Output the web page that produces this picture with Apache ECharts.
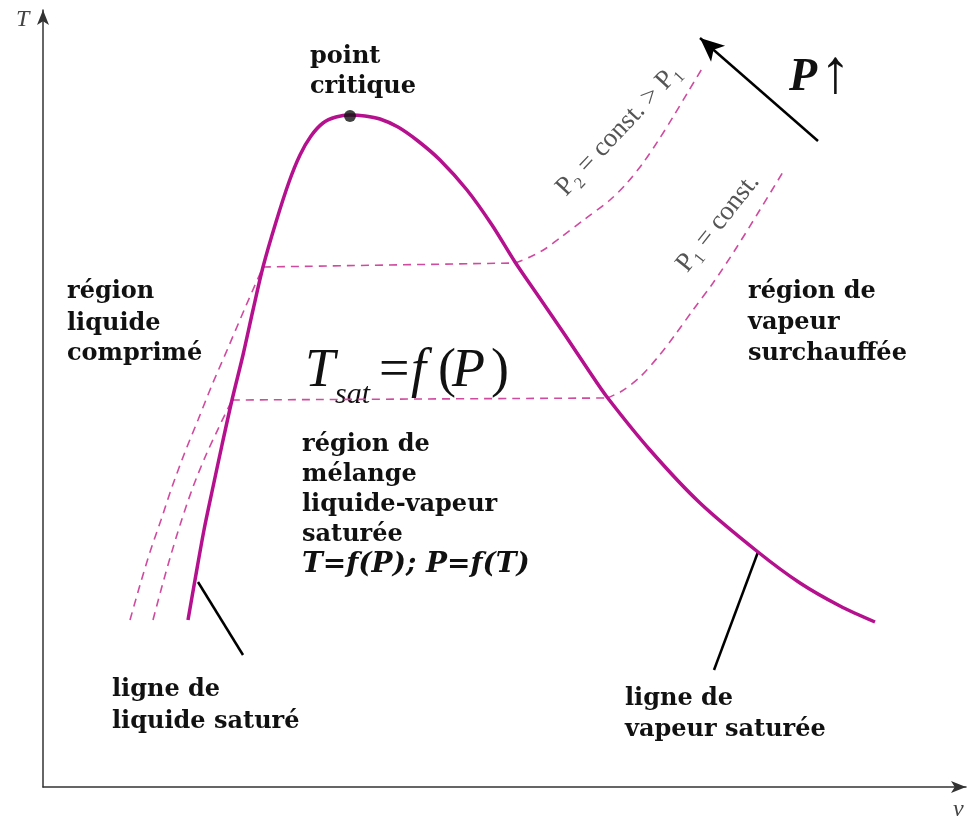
<!DOCTYPE html>
<html>
<head>
<meta charset="utf-8">
<script src="https://cdn.jsdelivr.net/npm/echarts@6/dist/echarts.min.js"></script>
<style>html,body{margin:0;padding:0;background:#fff}#main{width:967px;height:817px}</style>
</head>
<body>
<div id="main"></div>
<script>
// diagramme T-v (unités arbitraires)
var liquideSature = [[145,167],[152,207],[161,257],[170,300],[179,342],[189,387],[200,432],[210,477],[220,520],[233,565],[246,605],[257,632],[268,651],[280,664],[293,670],[307,672]];
var vapeurSaturee = [[307,672],[322,671],[337,668],[355,660],[375,646],[397,627],[424,597],[449,562],[472,525],[496,490],[522,452],[546,416],[564,390],[607,337],[657,284],[715,235],[757,204],[797,181],[832,165]];
var pointCritique = [[307,671]];

var p2Liquide = [[87,167],[97,202],[107,235],[118,267],[129,300],[142,335],[155,367],[169,402],[185,439],[202,479],[220,520]];
var p2Palier = [[220,520],[472,524]];
var p2Vapeur = [[472,524],[487,530],[502,538],[517,549],[542,568],[567,587],[584,604],[600,624],[615,646],[630,670],[645,695],[660,720]];

var p1Liquide = [[110,167],[118,197],[127,229],[138,265],[150,300],[163,332],[176,360],[189,387]];
var p1Palier = [[189,387],[564,389]];
var p1Vapeur = [[564,389],[579,396],[597,410],[615,430],[632,452],[650,477],[670,504],[692,537],[715,574],[740,615]];

var repereLiquide = [[155,205],[200,132]];
var repereVapeur = [[715,235],[671,117]];
var flecheP = [[775,646],[657,749]];

var myChart = echarts.init(document.getElementById('main'));

var dashStyle = {color:'#d04aa0', width:1.6, type:[8,6]};
function isobare(d){
    return {type:'line', data:d, smooth:0.3, symbol:'none', lineStyle:dashStyle, silent:true, z:2};
}
function noire(d){
    return {type:'line', data:d, symbol:'none', lineStyle:{color:'#000', width:2.5}, silent:true, z:3};
}

// textes : position x, ligne de base
function lab(x, base, text, fs, font, fill){
    return {type:'text', x:x, y:base - 0.33*fs, silent:true,
        style:{text:text, font:font, fill:fill || '#111', textVerticalAlign:'middle'}};
}
var B = 'bold 24px "DejaVu Serif"';
var M = '54px "Liberation Serif"', MI = 'italic 54px "Liberation Serif"';
var textes = [
    lab(16, 28, 'T', 24, 'italic 24px "Liberation Serif"', '#444'),
    lab(953, 818, 'v', 24, 'italic 24px "Liberation Serif"', '#444'),
    lab(310, 65, 'point', 24, B),
    lab(310, 95, 'critique', 24, B),
    lab(67, 300, 'région', 24, B),
    lab(67, 332, 'liquide', 24, B),
    lab(67, 362, 'comprimé', 24, B),
    lab(748, 300, 'région de', 24, B),
    lab(748, 331, 'vapeur', 24, B),
    lab(748, 362, 'surchauffée', 24, B),
    lab(302, 453, 'région de', 24, B),
    lab(302, 483, 'mélange', 24, B),
    lab(302, 513, 'liquide-vapeur', 24, B),
    lab(302, 543, 'saturée', 24, B),
    lab(302, 574, 'T=f(P); P=f(T)', 28, 'italic bold 28px "DejaVu Serif"'),
    lab(112, 698, 'ligne de', 24, B),
    lab(112, 730, 'liquide saturé', 24, B),
    lab(625, 707, 'ligne de', 24, B),
    lab(625, 738, 'vapeur saturée', 24, B),
    lab(305, 390, 'T', 54, MI),
    lab(335, 405, 'sat', 30, 'italic 30px "Liberation Serif"'),
    lab(379, 390, '=', 54, M),
    lab(411, 390, 'f', 54, MI),
    lab(438, 390, '(', 54, M),
    lab(452, 390, 'P', 54, MI),
    lab(491, 390, ')', 54, M),
    lab(789, 93, 'P', 46, 'italic bold 46px "Liberation Serif"'),
    lab(820, 96, '↑', 62, '62px "Liberation Serif"'),
    {type:'text', x:619, y:130, rotation:0.818, silent:true,
        style:{text:'P₂ = const. > P₁', font:'27px "Liberation Serif"', fill:'#555', textAlign:'center', textVerticalAlign:'middle'}},
    {type:'text', x:718, y:223, rotation:0.9, silent:true,
        style:{text:'P₁ = const.', font:'27px "Liberation Serif"', fill:'#555', textAlign:'center', textVerticalAlign:'middle'}}
];

var option = {
    animation: false,
    backgroundColor: '#fff',
    grid: {left:43, right:1, top:10, bottom:30},
    xAxis: {
        type:'value', min:0, max:923,
        axisLine:{symbol:['none','arrow'], symbolSize:[9,15], lineStyle:{color:'#333', width:1.5}},
        axisTick:{show:false}, axisLabel:{show:false}, splitLine:{show:false}
    },
    yAxis: {
        type:'value', min:0, max:777,
        axisLine:{symbol:['none','arrow'], symbolSize:[9,15], lineStyle:{color:'#333', width:1.5}},
        axisTick:{show:false}, axisLabel:{show:false}, splitLine:{show:false}
    },
    graphic: textes,
    series: [
        isobare(p2Liquide), isobare(p2Palier), isobare(p2Vapeur),
        isobare(p1Liquide), isobare(p1Palier), isobare(p1Vapeur),
        {type:'line', data:liquideSature.concat(vapeurSaturee.slice(1)), smooth:0.3, symbol:'none',
            lineStyle:{color:'#b5108e', width:3.5}, silent:true, z:4},
        noire(repereLiquide),
        noire(repereVapeur),
        {type:'line', data:flecheP, symbol:'none', lineStyle:{opacity:0}, silent:true,
            markLine:{silent:true, symbol:['none','arrow'], symbolSize:[16,24], label:{show:false},
                lineStyle:{color:'#000', width:2.5, type:'solid'},
                data:[[{coord:flecheP[0]},{coord:flecheP[1]}]]}},
        {type:'scatter', data:pointCritique, symbolSize:12, itemStyle:{color:'#111'}, silent:true, z:5}
    ]
};
myChart.setOption(option);
window.onresize = function(){ myChart.resize(); };
</script>
</body>
</html>
